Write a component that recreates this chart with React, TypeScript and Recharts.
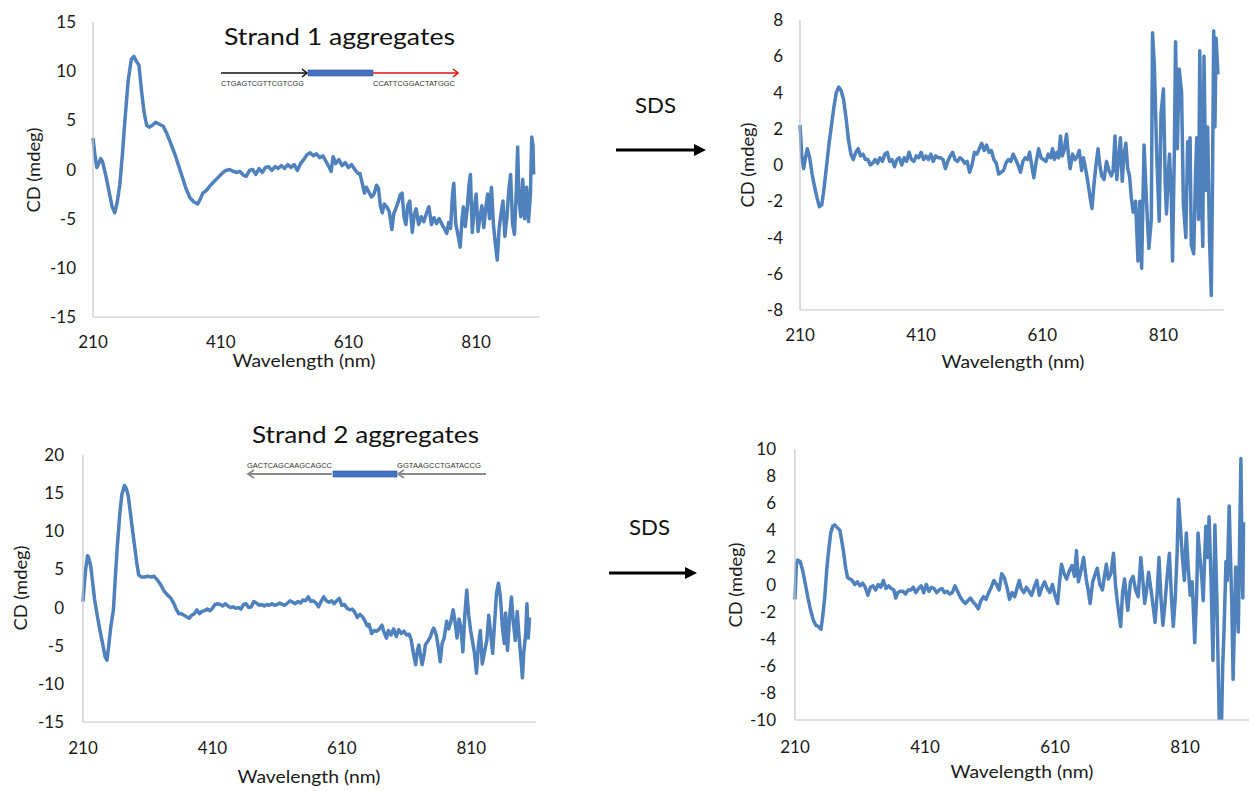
import React from "react";
import { LineChart, Line, XAxis, YAxis } from "recharts";

// CD spectra (wavelength in nm, CD in mdeg)
const xTicks = [210, 410, 610, 810];

const strand1Nm = [
  210, 213, 216, 219, 222, 225, 230, 235, 240, 244,
  248, 252, 256, 260, 265, 270, 274, 278, 282, 286,
  290, 294, 298, 303, 308, 314, 320, 326, 332, 338,
  344, 350, 356, 362, 368, 374, 378, 382, 388, 394,
  400, 406, 412, 418, 424, 430, 436, 440, 446, 450,
  455, 460, 465, 470, 475, 480, 485, 490, 495, 500,
  505, 510, 515, 520, 525, 530, 535, 540, 545, 550,
  555, 560, 565, 570, 575, 580, 583, 586, 590, 595,
  600, 605, 610, 615, 620, 625, 628, 632, 635, 638,
  642, 646, 650, 654, 657, 660, 663, 666, 670, 674,
  678, 681, 684, 688, 691, 694, 697, 700, 703, 706,
  710, 713, 716, 720, 724, 728, 732, 736, 740, 744,
  748, 752, 756, 760, 764, 767, 770, 773, 775, 778,
  781, 785, 788, 790, 793, 796, 799, 801, 804, 807,
  810, 813, 816, 819, 822, 825, 828, 831, 834, 837,
  840, 843, 846, 849, 852, 855, 858, 861, 864, 867,
  870, 873, 875, 877, 880, 883, 886, 889, 892, 895,
  897, 899, 900,
];
const strand1Cd = [
  3.2, 1.5, 0.2, 0.6, 1.1, 0.8, -0.6, -2.2, -3.8, -4.4,
  -3.3, -1.5, 1.5, 5.0, 9.0, 11.2, 11.5, 11.0, 10.6, 8.0,
  5.8, 4.5, 4.3, 4.5, 4.8, 4.6, 4.4, 3.6, 2.6, 1.6,
  0.4, -0.8, -2.0, -2.9, -3.3, -3.5, -3.0, -2.4, -2.1, -1.6,
  -1.2, -0.8, -0.4, -0.1, 0.0, -0.2, -0.3, -0.2, -0.6, -0.7,
  -0.1, 0.0, -0.5, 0.1, -0.3, 0.2, 0.3, -0.1, 0.3, 0.1,
  0.4, 0.1, 0.5, 0.2, 0.5, -0.1, 0.6, 1.0, 1.5, 1.7,
  1.4, 1.6, 1.2, 1.4, 0.8, 0.2, -0.2, 1.3, 0.6, 1.0,
  0.4, 0.7, 0.2, 0.5, 0.0, -0.4, -0.4, -1.5, -2.4, -1.8,
  -2.3, -2.8, -2.5, -1.6, -1.9, -3.7, -4.4, -3.5, -3.8, -4.3,
  -6.1, -4.5, -4.0, -3.3, -2.6, -2.4, -4.8, -5.6, -3.6, -3.2,
  -6.4, -4.6, -4.0, -5.6, -4.8, -5.3, -4.5, -3.8, -5.6, -4.9,
  -5.5, -5.0, -5.5, -6.0, -6.5, -5.4, -6.0, -2.5, -1.4, -5.5,
  -6.5, -7.9, -5.0, -3.8, -5.8, -4.0, -1.5, -0.5, -6.4, -4.0,
  -2.5, -6.3, -4.8, -3.7, -5.9, -4.0, -2.5, -5.0, -1.8, -5.5,
  -7.5, -9.2, -6.0, -4.5, -3.2, -6.8, -5.0, -2.2, -0.5, -5.5,
  -6.6, -2.0, 2.3, -3.0, -4.8, -1.0, -5.0, -1.8, -5.3, -2.5,
  3.3, 2.5, -0.5,
];

const strand1SdsNm = [
  210, 213, 216, 219, 222, 226, 230, 234, 238, 242,
  246, 250, 254, 258, 262, 266, 270, 274, 278, 282,
  286, 290, 294, 298, 302, 306, 310, 314, 318, 322,
  326, 330, 334, 338, 342, 346, 350, 354, 358, 362,
  366, 370, 374, 378, 382, 386, 390, 394, 398, 402,
  406, 410, 414, 418, 422, 426, 430, 434, 438, 442,
  446, 450, 454, 458, 462, 466, 470, 474, 478, 482,
  486, 490, 494, 498, 502, 506, 510, 514, 518, 522,
  526, 530, 534, 538, 542, 546, 550, 554, 558, 562,
  566, 570, 574, 578, 582, 586, 589, 592, 596, 600,
  604, 608, 612, 616, 620, 624, 627, 630, 634, 637,
  640, 643, 646, 650, 653, 656, 660, 664, 668, 671,
  675, 678, 682, 686, 689, 692, 695, 698, 702, 705,
  708, 712, 716, 720, 724, 727, 730, 733, 736, 739,
  742, 745, 748, 751, 754, 757, 760, 764, 768, 771,
  774, 778, 782, 786, 790, 792, 795, 799, 803, 806,
  810, 813, 815, 818, 820, 823, 825, 828, 830, 833,
  836, 840, 843, 847, 850, 852, 854, 856, 860, 863,
  865, 868, 870, 873, 875, 877, 880, 883, 886, 889,
  891, 893, 895, 897, 900,
];
const strand1SdsCd = [
  2.2, 0.5, -0.2, 0.4, 0.9, 0.4, -0.5, -1.2, -1.8, -2.3,
  -2.2, -1.2, 0.0, 1.2, 2.2, 3.2, 4.0, 4.3, 4.1, 3.6,
  2.6, 1.4, 0.6, 0.3, 0.7, 0.9, 0.5, 0.6, 0.3, 0.3,
  0.0, 0.1, 0.3, 0.1, 0.4, 0.2, 0.6, 0.7, 0.2, 0.3,
  -0.1, 0.3, 0.4, 0.0, 0.4, 0.2, 0.7, 0.3, 0.2, 0.5,
  0.4, 0.7, 0.3, 0.5, 0.3, 0.6, 0.2, 0.5, 0.4, 0.4,
  0.3, -0.2, 0.2, 0.5, 0.7, 0.3, 0.2, 0.4, 0.3, 0.1,
  0.2, -0.4, 0.0, 0.7, 0.6, 0.9, 1.2, 0.8, 1.1, 0.7,
  0.8, 0.3, 0.1, -0.5, -0.4, -0.3, 0.1, 0.3, 0.2, 0.6,
  0.3, 0.0, -0.4, 0.2, 0.4, 0.3, 0.7, 0.1, -0.7, 0.2,
  0.9, 0.4, 0.3, 0.2, 0.6, 0.4, 0.9, 0.3, 0.7, 0.4,
  1.6, 0.5, 0.8, 1.7, 0.6, -0.2, 0.6, 0.3, 0.5, 0.8,
  -0.3, 0.4, -0.3, -1.1, -1.8, -2.4, -1.2, -0.2, 0.9, 0.0,
  -0.6, -0.8, 0.2, -0.3, -0.6, -0.3, 1.6, -0.8, 0.4, 1.5,
  -0.9, 0.6, 1.2, -0.2, -0.6, -1.8, -2.6, -2.0, -5.3, -2.0,
  -5.7, 1.1, -2.0, -4.6, -3.0, 7.3, 5.5, 0.5, -3.1, 2.8,
  4.2, -1.0, -2.7, -0.5, 0.6, -1.8, -5.3, 0.7, 6.8, 0.9,
  5.3, 4.0, -2.2, -4.0, 1.3, -1.0, 1.5, -4.4, -4.9, -0.5,
  1.5, -3.0, 6.3, -2.0, -4.5, 6.0, -1.4, 2.1, -4.0, -7.2,
  -1.0, 7.4, 2.1, 7.0, 5.0,
];

const strand2Nm = [
  210, 212, 214, 217, 219, 222, 225, 228, 232, 236,
  240, 244, 247, 250, 253, 257, 260, 263, 267, 270,
  274, 277, 280, 284, 287, 290, 293, 296, 300, 305,
  310, 315, 320, 325, 330, 335, 340, 345, 350, 354,
  358, 362, 366, 370, 374, 378, 382, 386, 390, 394,
  398, 402, 406, 410, 414, 418, 422, 426, 430, 434,
  438, 442, 446, 450, 454, 458, 462, 466, 470, 474,
  478, 482, 486, 490, 494, 498, 502, 506, 510, 514,
  518, 522, 526, 530, 534, 538, 542, 546, 550, 554,
  558, 562, 566, 570, 574, 578, 582, 586, 590, 594,
  598, 602, 606, 610, 614, 618, 622, 626, 630, 634,
  638, 642, 646, 649, 652, 656, 660, 664, 668, 672,
  675, 679, 682, 686, 690, 694, 698, 702, 706, 710,
  714, 717, 721, 724, 727, 729, 732, 734, 737, 739,
  743, 747, 750, 752, 756, 759, 762, 765, 768, 772,
  775, 778, 782, 785, 788, 791, 794, 797, 800, 803,
  806, 809, 812, 815, 818, 821, 824, 827, 830, 834,
  837, 840, 843, 846, 849, 852, 855, 858, 861, 863,
  866, 869, 872, 875, 878, 881, 884, 887, 889, 891,
  894, 896, 898, 900,
];
const strand2Cd = [
  0.8, 3.0, 4.9, 6.8, 6.5, 5.4, 3.2, 1.0, -1.0, -2.9,
  -4.6, -6.4, -6.9, -4.8, -2.5, -0.3, 4.0, 8.0, 12.4, 14.8,
  16.0, 15.6, 14.6, 11.9, 9.8, 7.9, 5.9, 4.3, 4.0, 4.0,
  4.1, 4.0, 4.1, 3.6, 3.0, 2.2, 1.7, 1.3, 0.6, -0.2,
  -0.8, -0.8, -1.0, -1.2, -1.4, -1.0, -0.8, -0.3, -0.8, -0.5,
  -0.4, -0.2, -0.4, -0.1, 0.4, 0.5, 0.4, 0.2, 0.5, 0.2,
  0.0, 0.1, -0.1, 0.0, -0.2, 0.4, 0.5, 0.0, 0.1, 0.8,
  0.6, 0.3, 0.4, 0.2, 0.4, 0.3, 0.5, 0.3, 0.4, 0.6,
  0.4, 0.3, 0.6, 0.9, 0.7, 0.5, 0.8, 0.6, 1.0, 0.9,
  1.4, 0.8, 0.9, 0.6, 0.1, 0.8, 1.4, 0.9, 0.7, 0.9,
  0.5, 0.9, 1.2, 0.3, 0.4, -0.1, -0.3, -0.2, -0.6, -1.3,
  -0.9, -1.2, -1.8, -2.4, -2.2, -3.4, -3.0, -3.1, -2.8, -2.3,
  -3.2, -4.0, -3.0, -3.6, -2.8, -3.8, -2.9, -3.4, -3.1, -3.6,
  -3.5, -4.2, -6.2, -7.5, -5.5, -4.9, -6.5, -7.5, -6.2, -4.9,
  -4.4, -3.8, -3.0, -2.7, -3.6, -5.2, -7.1, -4.7, -4.0, -1.8,
  -2.8, -2.0, -0.3, -2.0, -4.0, -1.5, -2.6, -5.8, -1.0, 2.3,
  -1.0, -3.0, -4.5, -6.0, -8.6, -5.0, -3.0, -7.4, -6.0, -4.3,
  -1.0, -3.5, -6.0, -2.0, 1.9, 3.2, 1.4, -2.5, -4.7, -0.7,
  -5.6, -1.5, 1.4, -2.0, -4.3, -0.5, -4.0, -7.0, -9.2, -6.0,
  -3.5, 0.5, -4.0, -1.3,
];

const strand2SdsNm = [
  210, 212, 214, 218, 222, 226, 230, 234, 238, 242,
  246, 250, 253, 256, 259, 262, 265, 268, 271, 275,
  279, 282, 285, 288, 291, 295, 298, 302, 306, 310,
  314, 318, 322, 326, 330, 334, 338, 342, 346, 350,
  354, 358, 362, 365, 368, 372, 376, 380, 384, 388,
  392, 396, 400, 404, 408, 412, 416, 420, 424, 428,
  432, 436, 440, 444, 448, 452, 456, 460, 464, 468,
  472, 476, 480, 484, 488, 492, 496, 500, 504, 508,
  512, 516, 520, 524, 528, 532, 536, 540, 544, 548,
  552, 555, 558, 562, 566, 570, 574, 578, 582, 586,
  590, 594, 598, 602, 606, 610, 614, 617, 620, 624,
  628, 632, 636, 640, 643, 646, 650, 654, 658, 661,
  664, 668, 672, 675, 679, 683, 686, 689, 692, 696,
  700, 703, 706, 709, 711, 714, 717, 720, 722, 726,
  730, 734, 738, 742, 745, 748, 751, 754, 758, 761,
  764, 767, 770, 773, 776, 779, 782, 786, 789, 792,
  795, 798, 800, 803, 806, 809, 812, 815, 818, 821,
  825, 828, 830, 833, 836, 838, 842, 845, 847, 850,
  853, 856, 859, 861, 863, 866, 868, 870, 873, 875,
  878, 880, 882, 884, 886, 888, 890, 892, 894, 896,
  897, 898, 899, 900,
];
const strand2SdsCd = [
  -1.1, 1.4, 1.8, 1.7, 1.0, 0.0, -1.0, -1.9, -2.6, -3.0,
  -3.1, -3.3, -2.2, -0.8, 1.2, 2.6, 3.8, 4.3, 4.4, 4.2,
  4.0, 3.2, 2.3, 1.2, 0.5, 0.4, 0.3, 0.0, 0.2, -0.1,
  0.1, -0.2, -0.8, -0.2, -0.1, -0.4, 0.0, -0.2, 0.3, -0.3,
  -0.1, -0.3, -0.4, -1.0, -0.6, -0.5, -0.5, -0.7, -0.4, -0.4,
  -0.2, -0.6, -0.3, -0.1, -0.6, 0.0, -0.5, -0.2, -0.3, -0.6,
  -0.4, -0.3, -0.6, -0.5, -0.7, -0.6, -0.1, -0.5, -0.9, -1.2,
  -1.4, -1.2, -1.0, -1.3, -1.5, -1.8, -1.2, -0.9, -1.1, -0.6,
  -0.2, 0.3, 0.0, -0.4, 0.8, 0.5, -0.2, -1.1, -0.6, -0.9,
  -0.2, 0.3, -0.3, -0.6, -0.2, -0.5, -0.8, -0.2, 0.3, -0.8,
  -0.2, 0.2, -0.3, -0.6, 0.0, -0.8, -1.4, 0.2, 1.5, 0.8,
  0.4, 1.0, 1.4, 0.6, 2.5, 0.2, 1.0, 2.0, 0.4, -0.4,
  -1.4, 0.2, 0.8, 1.2, 0.0, -0.4, 0.6, 1.5, 0.4, 0.8,
  2.3, 0.0, -1.3, -2.4, -3.1, -0.6, 0.4, -1.0, -1.9, 0.2,
  0.6, -0.4, -0.9, 2.0, 0.4, -1.4, -0.4, 0.9, -0.5, -1.6,
  -2.8, -0.8, 2.0, -1.0, -3.0, -1.5, 0.3, 2.3, -0.8, -3.1,
  -1.0, 2.5, 6.3, 4.2, 2.0, 0.3, 3.8, 1.2, -0.8, 0.2,
  -4.3, -0.5, 3.8, 2.0, 0.4, -1.2, 4.3, 2.0, 5.0, 0.5,
  -5.6, 4.4, -1.0, -6.0, -10.8, -10.8, -6.0, -3.5, 1.7, 0.3,
  5.8, 2.0, -1.4, -7.0, -3.0, 1.3, -0.5, -3.5, 3.0, 9.3,
  5.0, 1.0, -1.0, 4.6,
];

const toRows = (nm: number[], cd: number[]) => nm.map((x, i) => ({ nm: x, cd: cd[i] }));

const AXIS_GRAY = "#c4c4c4";
const LINE_BLUE = "#4f81bd";
const TICK_FONT = { fontSize: 17, fill: "#1a1a1a", fontFamily: "Lato, sans-serif" };

type Box = { left: number; top: number; width: number; height: number };

function CdPanel({
  box,
  data,
  yDomain,
  yTicks,
  yGap,
  xGap,
}: {
  box: Box;
  data: { nm: number; cd: number }[];
  yDomain: [number, number];
  yTicks: number[];
  yGap: number;
  xGap: number;
}) {
  const padL = 70;
  const padT = 12;
  const padR = 12;
  const padB = 45;
  return (
    <div style={{ position: "absolute", left: box.left - padL, top: box.top - padT }}>
      <LineChart
        width={box.width + padL + padR}
        height={box.height + padT + padB}
        data={data}
        margin={{ top: padT, right: padR, left: 0, bottom: 0 }}
      >
        <XAxis
          dataKey="nm"
          type="number"
          domain={[210, 910]}
          ticks={xTicks}
          height={padB}
          tickLine={false}
          tickMargin={xGap}
          axisLine={{ stroke: AXIS_GRAY, strokeWidth: 1.2 }}
          tick={TICK_FONT}
        />
        <YAxis
          type="number"
          domain={yDomain}
          ticks={yTicks}
          width={padL}
          allowDataOverflow
          tickLine={false}
          tickMargin={yGap}
          axisLine={{ stroke: AXIS_GRAY, strokeWidth: 1.2 }}
          tick={TICK_FONT}
          interval={0}
        />
        <Line
          type="linear"
          dataKey="cd"
          stroke={LINE_BLUE}
          strokeWidth={3.5}
          strokeLinejoin="round"
          dot={false}
          isAnimationActive={false}
        />
      </LineChart>
    </div>
  );
}

function AxisTitles({ cdX, cdY, wlX, wlY }: { cdX: number; cdY: number; wlX: number; wlY: number }) {
  return (
    <>
      <text
        x={cdX}
        y={cdY}
        transform={`rotate(-90 ${cdX} ${cdY})`}
        textAnchor="middle"
        fontSize={17}
        textLength={85}
        lengthAdjust="spacingAndGlyphs"
        fill="#1a1a1a"
      >
        CD (mdeg)
      </text>
      <text x={wlX} y={wlY} textAnchor="middle" fontSize={17} textLength={143} lengthAdjust="spacingAndGlyphs" fill="#1a1a1a">
        Wavelength (nm)
      </text>
    </>
  );
}

export default function App() {
  return (
    <div
      style={{
        position: "absolute",
        left: 0,
        top: 0,
        width: 1249,
        height: 791,
        overflow: "hidden",
        background: "#fff",
        fontFamily: "Lato, sans-serif",
      }}
    >
      <CdPanel
        box={{ left: 93, top: 22, width: 447, height: 295 }}
        data={toRows(strand1Nm, strand1Cd)}
        yDomain={[-15, 15]}
        yTicks={[-15, -10, -5, 0, 5, 10, 15]}
        yGap={11}
        xGap={13}
      />
      <CdPanel
        box={{ left: 800, top: 20, width: 424, height: 290 }}
        data={toRows(strand1SdsNm, strand1SdsCd)}
        yDomain={[-8, 8]}
        yTicks={[-8, -6, -4, -2, 0, 2, 4, 6, 8]}
        yGap={11}
        xGap={13}
      />
      <CdPanel
        box={{ left: 83, top: 455, width: 453, height: 267 }}
        data={toRows(strand2Nm, strand2Cd)}
        yDomain={[-15, 20]}
        yTicks={[-15, -10, -5, 0, 5, 10, 15, 20]}
        yGap={13}
        xGap={14}
      />
      <CdPanel
        box={{ left: 795, top: 449, width: 455, height: 271 }}
        data={toRows(strand2SdsNm, strand2SdsCd)}
        yDomain={[-10, 10]}
        yTicks={[-10, -8, -6, -4, -2, 0, 2, 4, 6, 8, 10]}
        yGap={13}
        xGap={15}
      />

      <svg
        width={1249}
        height={791}
        style={{ position: "absolute", left: 0, top: 0, pointerEvents: "none" }}
        fontFamily="Lato, sans-serif"
      >
        <AxisTitles cdX={40} cdY={170} wlX={304} wlY={367} />
        <AxisTitles cdX={754} cdY={165} wlX={1013} wlY={368} />
        <AxisTitles cdX={27} cdY={588} wlX={309} wlY={783} />
        <AxisTitles cdX={742} cdY={585} wlX={1022} wlY={778} />

        {/* titles */}
        <text x={224} y={45} fontSize={24} textLength={231} lengthAdjust="spacingAndGlyphs" fill="#111">
          Strand 1 aggregates
        </text>
        <text x={252} y={443} fontSize={24} textLength={227} lengthAdjust="spacingAndGlyphs" fill="#111">
          Strand 2 aggregates
        </text>

        {/* strand 1 scheme */}
        <line x1={221} y1={73} x2={306} y2={73} stroke="#111" strokeWidth={1.6} />
        <polyline points="302,69 307,73 302,77" fill="none" stroke="#111" strokeWidth={1.6} />
        <rect x={308} y={70} width={65} height={6} fill="#4472c4" stroke="#2f5597" strokeWidth={0.6} />
        <line x1={373} y1={73} x2={457} y2={73} stroke="#e01010" strokeWidth={1.6} />
        <polyline points="453,69 458,73 453,77" fill="none" stroke="#e01010" strokeWidth={1.6} />
        <g fontFamily="'Liberation Sans', Arial, sans-serif" fontSize={7.5} fill="#333">
          <text x={221} y={86} textLength={83} lengthAdjust="spacingAndGlyphs">CTGAGTCGTTCGTCGG</text>
          <text x={373} y={86} textLength={82} lengthAdjust="spacingAndGlyphs">CCATTCGGACTATGGC</text>
        </g>

        {/* strand 2 scheme */}
        <g fontFamily="'Liberation Sans', Arial, sans-serif" fontSize={7.5} fill="#333">
          <text x={247} y={468} textLength={85} lengthAdjust="spacingAndGlyphs">GACTCAGCAAGCAGCC</text>
          <text x={397} y={468} textLength={84} lengthAdjust="spacingAndGlyphs">GGTAAGCCTGATACCG</text>
        </g>
        <line x1={332} y1={474} x2={249} y2={474} stroke="#8a8a8a" strokeWidth={1.8} />
        <polyline points="254,470 248,474 254,478" fill="none" stroke="#8a8a8a" strokeWidth={1.8} />
        <rect x={333} y={471} width={64} height={6} fill="#4472c4" stroke="#2f5597" strokeWidth={0.6} />
        <line x1={486} y1={474} x2={399} y2={474} stroke="#8a8a8a" strokeWidth={1.8} />
        <polyline points="404,470 398,474 404,478" fill="none" stroke="#8a8a8a" strokeWidth={1.8} />

        {/* SDS arrows */}
        <text x={635} y={113} fontSize={22} textLength={41} lengthAdjust="spacingAndGlyphs" fill="#111">SDS</text>
        <line x1={616} y1={150} x2={697} y2={150} stroke="#000" strokeWidth={3} />
        <polygon points="694,144 706,150 694,156" fill="#000" />
        <text x={629} y={535} fontSize={22} textLength={41} lengthAdjust="spacingAndGlyphs" fill="#111">SDS</text>
        <line x1={609} y1={573} x2={688} y2={573} stroke="#000" strokeWidth={3} />
        <polygon points="685,567 697,573 685,579" fill="#000" />
      </svg>
    </div>
  );
}
